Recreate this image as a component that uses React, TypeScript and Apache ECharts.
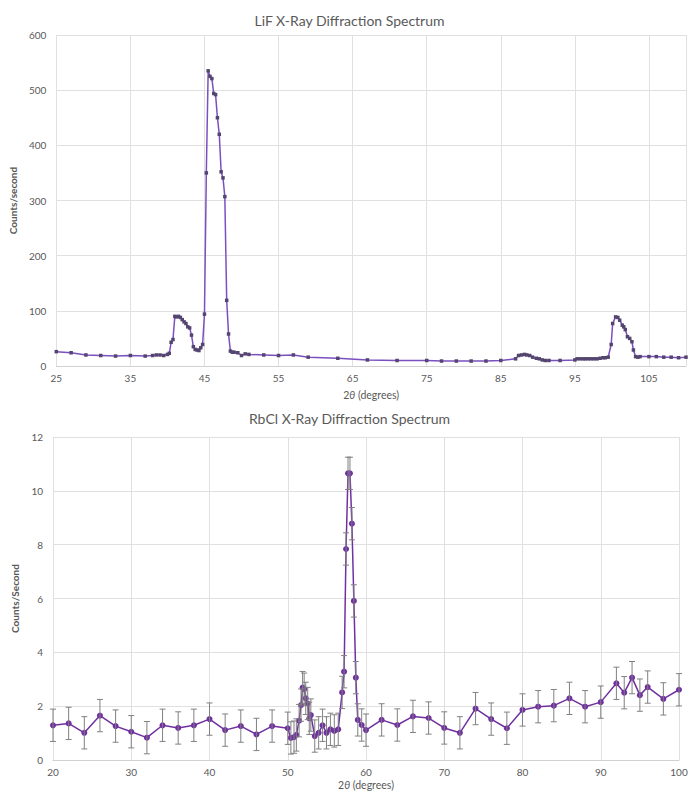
import React, { useEffect, useRef } from "react";
import * as echarts from "echarts";

// LiF spectrum: 2θ (degrees) and counts/second
const lifAngle = [
  25, 27, 29, 31, 33, 35, 37, 38, 38.5, 39, 39.5, 40, 40.25, 40.5, 40.75, 41, 41.25, 41.5, 41.75, 42,
  42.25, 42.5, 42.75, 43, 43.25, 43.5, 43.75, 44, 44.25, 44.5, 44.75, 45, 45.25, 45.5, 45.75, 46,
  46.25, 46.5, 46.75, 47, 47.25, 47.5, 47.75, 48, 48.25, 48.5, 48.75, 49, 49.5, 50, 50.5, 51, 53, 55,
  57, 59, 63, 67, 71, 75, 77, 79, 81, 83, 85, 87, 87.4, 87.8, 88.2, 88.5, 88.9, 89.3, 89.8, 90.2,
  90.6, 91, 91.5, 93, 95, 95.3, 95.7, 96.1, 96.4, 96.8, 97.2, 97.6, 98, 98.4, 98.8, 99.1, 99.5, 99.9,
  100.1, 100.5, 100.8, 101.05, 101.4, 101.6, 101.8, 102.1, 102.4, 102.7, 102.9, 103.2, 103.5, 103.8,
  105, 106, 107, 108, 109, 110,
];
const lifCounts = [
  26, 24, 20, 19, 18, 19, 18, 19, 20, 20, 19, 21, 23, 43, 48, 90, 89, 90, 88, 84,
  80, 77, 71, 69, 56, 35, 30, 29, 28, 33, 39, 94, 350, 535, 525, 521,
  494, 492, 450, 420, 352, 341, 307, 119, 58, 27, 25, 25, 24, 19, 22, 21, 20, 19,
  20, 16, 14, 11, 10, 10, 9, 9, 9, 9, 10, 13, 19, 20, 21, 20, 19, 16, 14, 13,
  11, 10, 10, 10, 11, 13, 13, 13, 13, 13, 13, 13, 13, 14, 15, 15, 16, 39,
  77, 89, 88, 83, 74, 71, 66, 53, 50, 44, 29, 17, 16, 17,
  17, 17, 16, 16, 15, 16,
];

// RbCl spectrum: 2θ (degrees), counts/second and error
const rbclAngle = [
  20, 22, 24, 26, 28, 30, 32, 34, 36, 38, 40, 42, 44, 46, 48, 50, 50.4, 50.8, 51.1, 51.45, 51.7,
  51.9, 52.1, 52.3, 52.55, 52.75, 52.95, 53.45, 53.95, 54.45, 54.95, 55.45, 55.95, 56.45, 56.95,
  57.2, 57.45, 57.7, 57.95, 58.2, 58.45, 58.7, 58.95, 59.45, 60, 62, 64, 66, 68, 70, 72, 74, 76,
  78, 80, 82, 84, 86, 88, 90, 92, 93, 94, 95, 96, 98, 100,
];
const rbclCounts = [
  1.29, 1.36, 1.01, 1.65, 1.26, 1.05, 0.83, 1.29, 1.19, 1.29, 1.52, 1.11, 1.26, 0.95, 1.26, 1.18,
  0.82, 0.85, 0.93, 1.46, 2.04, 2.69, 2.63, 2.29, 2.1, 1.55, 1.67, 0.89, 1.01, 1.29, 1.01, 1.14,
  1.08, 1.14, 2.51, 3.28, 7.84, 10.65, 10.65, 8.78, 5.91, 3.06, 1.49, 1.3, 1.11, 1.49, 1.3, 1.62,
  1.56, 1.19, 1.01, 1.91, 1.52, 1.18, 1.86, 1.98, 2.02, 2.29, 1.98, 2.15, 2.85, 2.5, 3.06, 2.41,
  2.71, 2.27, 2.61,
];
const rbclError = rbclCounts.map(() => 0.6);

const lifTitle = "LiF X-Ray Diffraction Spectrum";
const rbclTitle = "RbCl X-Ray Diffraction Spectrum";

const FONT = "Lato";
const GREY = "#595959";

export default function App() {
  const ref = useRef<HTMLDivElement>(null);
  useEffect(() => {
    document.body.style.margin = "0";
    if (!ref.current) return;
    const chart = echarts.init(ref.current, null, { renderer: "svg" });
    const axisName = {
      rich: {
        a: { fontFamily: FONT, fontSize: 10.5, color: GREY },
        i: { fontFamily: FONT, fontSize: 10.5, color: GREY, fontStyle: "italic" },
      },
    };
    const xName = "{a|2}{i|θ}{a| (degrees)}";
    const xAxisCommon = {
      type: "value",
      nameLocation: "middle",
      nameTextStyle: axisName,
      axisLine: { show: true, lineStyle: { color: "#d0d0d0" } },
      axisTick: { show: false },
      splitLine: { show: true, lineStyle: { color: "#e0e0e0" } },
      axisLabel: { color: GREY, fontFamily: FONT, fontSize: 10, margin: 7, showMaxLabel: true },
    };
    const yAxisCommon = {
      type: "value",
      nameLocation: "middle",
      nameRotate: 90,
      nameTextStyle: { fontFamily: FONT, fontSize: 10, color: GREY, fontWeight: "bold" },
      axisLine: { show: false },
      axisTick: { show: false },
      splitLine: { show: true, lineStyle: { color: "#e0e0e0" } },
      axisLabel: { color: GREY, fontFamily: FONT, fontSize: 10, margin: 10 },
    };
    chart.setOption({
      animation: false,
      backgroundColor: "#ffffff",
      title: [
        {
          text: lifTitle,
          left: "center",
          top: 8,
          textStyle: { fontFamily: FONT, fontSize: 14, fontWeight: "normal", color: GREY },
        },
        {
          text: rbclTitle,
          left: "center",
          top: 406,
          textStyle: { fontFamily: FONT, fontSize: 14, fontWeight: "normal", color: GREY },
        },
      ],
      grid: [
        { left: 53, right: 13, top: 35, height: 331 },
        { left: 53, right: 20, top: 437, height: 323 },
      ],
      xAxis: [
        {
          ...xAxisCommon,
          gridIndex: 0,
          min: 25,
          max: 110,
          interval: 10,
          name: xName,
          nameGap: 23,
          axisLabel: { ...xAxisCommon.axisLabel, showMaxLabel: false },
        },
        {
          ...xAxisCommon,
          gridIndex: 1,
          min: 20,
          max: 100,
          interval: 10,
          name: xName,
          nameGap: 19,
        },
      ],
      yAxis: [
        {
          ...yAxisCommon,
          gridIndex: 0,
          min: 0,
          max: 600,
          interval: 100,
          name: "Counts/second",
          nameGap: 28,
        },
        {
          ...yAxisCommon,
          gridIndex: 1,
          min: 0,
          max: 12,
          interval: 2,
          name: "Counts/Second",
          nameGap: 28,
        },
      ],
      series: [
        {
          type: "line",
          xAxisIndex: 0,
          yAxisIndex: 0,
          data: lifAngle.map((a, i) => [a, lifCounts[i]]),
          symbol: "rect",
          symbolSize: 3.5,
          lineStyle: { color: "#7a4fc0", width: 1.5 },
          itemStyle: { color: "#54456f" },
        },
        {
          type: "line",
          xAxisIndex: 1,
          yAxisIndex: 1,
          data: rbclAngle.map((a, i) => [a, rbclCounts[i]]),
          symbol: "circle",
          symbolSize: 6,
          lineStyle: { color: "#7030a0", width: 1.5 },
          itemStyle: { color: "#7030a0" },
          z: 2,
        },
        {
          type: "custom",
          xAxisIndex: 1,
          yAxisIndex: 1,
          z: 3,
          data: rbclAngle.map((a, i) => [a, rbclCounts[i] - rbclError[i], rbclCounts[i] + rbclError[i]]),
          encode: { x: 0, y: [1, 2] },
          renderItem: (params: any, api: any) => {
            const x = api.value(0);
            const lo = api.coord([x, api.value(1)]);
            const hi = api.coord([x, api.value(2)]);
            const w = 3;
            const style = { stroke: "#808080", lineWidth: 1 };
            return {
              type: "group",
              children: [
                { type: "line", shape: { x1: lo[0], y1: lo[1], x2: hi[0], y2: hi[1] }, style },
                { type: "line", shape: { x1: lo[0] - w, y1: lo[1], x2: lo[0] + w, y2: lo[1] }, style },
                { type: "line", shape: { x1: hi[0] - w, y1: hi[1], x2: hi[0] + w, y2: hi[1] }, style },
              ],
            };
          },
        },
      ],
    });
    return () => chart.dispose();
  }, []);
  return <div ref={ref} style={{ width: 699, height: 799 }} />;
}
